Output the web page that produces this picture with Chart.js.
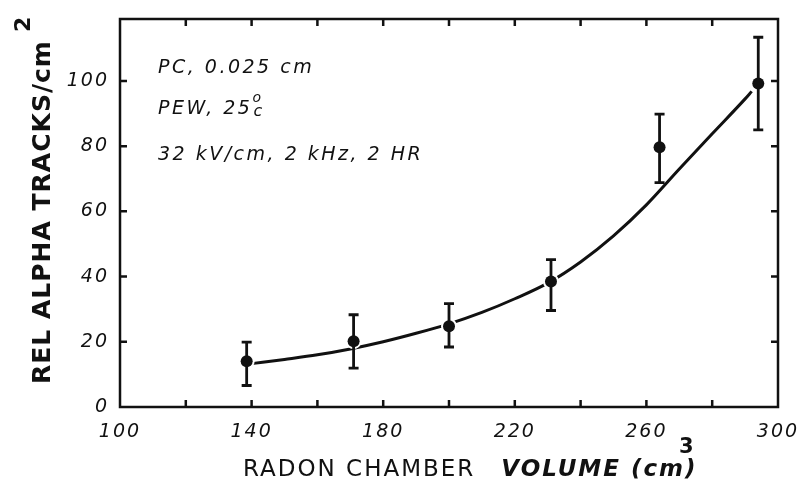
<!DOCTYPE html>
<html>
<head>
<meta charset="utf-8">
<script src="https://cdn.jsdelivr.net/npm/chart.js@4.4.0/dist/chart.umd.min.js"></script>
<style>
  html, body { margin: 0; padding: 0; background: #fff; overflow: hidden; }
  canvas { display: block; }
</style>
</head>
<body>
<canvas id="c" width="797" height="486"></canvas>
<script>
// measured points (volume cm3, relative tracks/cm2)
const volume = [138.5, 171, 200, 231, 264, 294];
const tracks = [14, 20.2, 24.8, 38.5, 79.7, 99.2];
const errLow = [6.6, 11.9, 18.4, 29.6, 68.8, 85.0];
const errHigh = [19.9, 28.3, 31.7, 45.2, 89.8, 113.4];

// fitted curve
const fitX = [140, 150, 160, 170, 180, 190, 200, 210, 220, 230, 240, 250, 260, 270, 280, 290, 292];
const fitY = [13.3, 14.6, 16.0, 17.8, 20.0, 22.6, 25.5, 29.0, 33.2, 38.0, 44.5, 52.5, 62.0, 73.0, 83.8, 94.5, 96.8];

const notes = ['PC, 0.025 cm', 'PEW, 25', '32 kV/cm, 2 kHz, 2 HR'];

const ink = '#111';

// wide lettering like the stencil text of the original
const spacingPlugin = {
    id: 'spacing',
    beforeLayout(chart) { chart.ctx.letterSpacing = '2px'; },
    beforeDraw(chart) { chart.ctx.letterSpacing = '2px'; }
};

// frame, inward ticks, error bars, axis titles, notes
const paperPlugin = {
    id: 'paper',
    afterDatasetsDraw(chart) {
        const ctx = chart.ctx;
        const xs = chart.scales.x, ys = chart.scales.y;
        const a = chart.chartArea;
        ctx.save();
        ctx.strokeStyle = ink;
        ctx.lineCap = 'butt';

        // error bars
        ctx.lineWidth = 2.8;
        volume.forEach((v, i) => {
            const px = xs.getPixelForValue(v);
            const top = ys.getPixelForValue(errHigh[i]);
            const bot = ys.getPixelForValue(errLow[i]);
            ctx.beginPath();
            ctx.moveTo(px, top); ctx.lineTo(px, bot);
            ctx.moveTo(px - 5, top); ctx.lineTo(px + 5, top);
            ctx.moveTo(px - 5, bot); ctx.lineTo(px + 5, bot);
            ctx.stroke();
            ctx.beginPath();
            ctx.fillStyle = ink;
            ctx.arc(px, ys.getPixelForValue(tracks[i]), 6, 0, Math.PI * 2);
            ctx.fill();
        });

        // frame
        ctx.lineWidth = 2.5;
        ctx.strokeRect(a.left, a.top, a.right - a.left, a.bottom - a.top);

        // inward ticks
        const len = 7;
        ctx.beginPath();
        for (let v = 120; v < 300; v += 20) {
            const px = xs.getPixelForValue(v);
            ctx.moveTo(px, a.bottom); ctx.lineTo(px, a.bottom - len);
            ctx.moveTo(px, a.top); ctx.lineTo(px, a.top + len);
        }
        for (let v = 20; v <= 100; v += 20) {
            const py = ys.getPixelForValue(v);
            ctx.moveTo(a.left, py); ctx.lineTo(a.left + len, py);
            ctx.moveTo(a.right, py); ctx.lineTo(a.right - len, py);
        }
        ctx.stroke();

        // notes in the corner
        ctx.fillStyle = ink;
        ctx.textBaseline = 'alphabetic';
        ctx.textAlign = 'left';
        ctx.letterSpacing = '2.5px';
        ctx.font = 'italic 19px "DejaVu Sans"';
        ctx.fillText(notes[0], 158, 73);
        ctx.fillText(notes[1], 158, 114);
        let w = ctx.measureText(notes[1]).width;
        ctx.font = 'italic 14px "DejaVu Sans"';
        ctx.fillText('o', 158 + w, 102);
        ctx.font = 'italic 16px "DejaVu Sans"';
        ctx.fillText('c', 158 + w + 1, 116);
        ctx.font = 'italic 19px "DejaVu Sans"';
        ctx.fillText(notes[2], 158, 160);

        // x title
        ctx.letterSpacing = '2px';
        ctx.font = '23px "DejaVu Sans"';
        const part1 = 'RADON CHAMBER';
        let x0 = 243;
        ctx.fillText(part1, x0, 476);
        x0 += ctx.measureText(part1).width + 26;
        ctx.font = 'italic bold 23px "DejaVu Sans"';
        const part2 = 'VOLUME (cm';
        ctx.fillText(part2, x0, 476);
        x0 += ctx.measureText(part2).width;
        ctx.fillText(')', x0, 476);
        ctx.font = 'bold 21px "DejaVu Sans"';
        ctx.fillText('3', x0 - 6, 453);

        // y title
        ctx.translate(50, 384);
        ctx.rotate(-Math.PI / 2);
        ctx.letterSpacing = '1px';
        ctx.font = 'bold 25px "DejaVu Sans"';
        const ytitle = 'REL ALPHA TRACKS/cm';
        ctx.fillText(ytitle, 0, 0);
        w = ctx.measureText(ytitle).width;
        ctx.font = 'bold 22px "DejaVu Sans"';
        ctx.fillText('2', w + 8, -20);
        ctx.restore();
    }
};

new Chart(document.getElementById('c'), {
    type: 'scatter',
    data: {
        datasets: [{
            label: 'measured',
            data: volume.map((v, i) => ({ x: v, y: tracks[i] })),
            pointRadius: 6,
            pointBackgroundColor: ink,
            pointBorderColor: '#fff',
            pointBorderWidth: 4,
            showLine: false
        }, {
            label: 'fit',
            data: fitX.map((v, i) => ({ x: v, y: fitY[i] })),
            showLine: true,
            pointRadius: 0,
            borderColor: ink,
            borderWidth: 3,
            cubicInterpolationMode: 'monotone'
        }]
    },
    options: {
        responsive: false,
        animation: false,
        devicePixelRatio: 1,
        layout: { padding: { top: 19, right: 19, left: 0, bottom: 0 } },
        plugins: { legend: { display: false }, tooltip: { enabled: false } },
        scales: {
            x: {
                type: 'linear',
                min: 100, max: 300,
                border: { display: false },
                grid: { display: false },
                ticks: {
                    stepSize: 40,
                    color: ink,
                    padding: 6,
                    maxRotation: 0,
                    font: { family: 'DejaVu Sans', style: 'italic', size: 19 }
                },
                afterFit: s => { s.height = 79; s.paddingLeft = 0; s.paddingRight = 0; }
            },
            y: {
                min: 0, max: 119,
                border: { display: false },
                grid: { display: false },
                ticks: {
                    stepSize: 20,
                    color: ink,
                    padding: 3,
                    font: { family: 'DejaVu Sans', style: 'italic', size: 19 },
                    callback: v => (v > 100 ? '' : v)
                },
                afterFit: s => { s.width = 120; s.paddingTop = 0; s.paddingBottom = 0; }
            }
        }
    },
    plugins: [spacingPlugin, paperPlugin]
});
</script>
</body>
</html>
